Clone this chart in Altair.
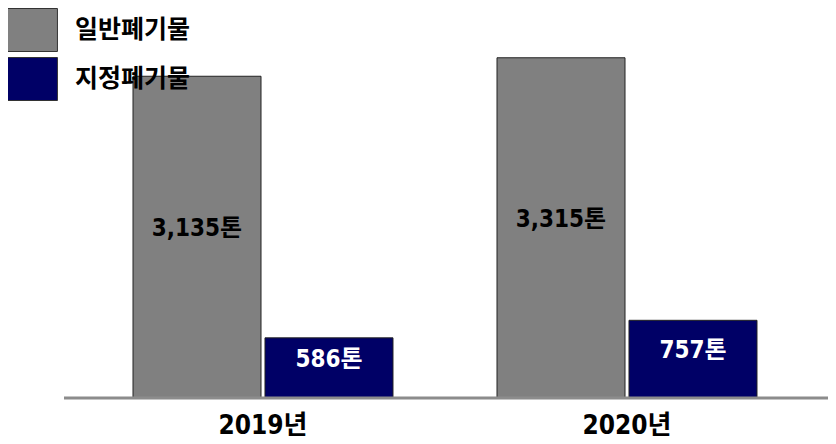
import altair as alt
import pandas as pd

years = ["2019년", "2020년"]
series = ["일반폐기물", "지정폐기물"]
general = [3135, 3315]
designated = [586, 757]
colors = ["#808080", "#000066"]

rows = []
for i, y in enumerate(years):
    for s, vals in zip(series, [general, designated]):
        rows.append({"year": y, "type": s, "value": vals[i], "label": f"{vals[i]:,}톤"})
df = pd.DataFrame(rows)

FONT = "'DejaVu Sans Condensed', 'Noto Sans CJK KR', sans-serif"
KFONT = "'Noto Sans CJK KR', sans-serif"

x = alt.X(
    "year:N",
    scale=alt.Scale(domain=years, range=[73, 801], paddingInner=0, paddingOuter=0),
    axis=alt.Axis(title=None, domain=False, ticks=False, labelAngle=0,
                  labelFont=FONT, labelFontSize=26, labelFontWeight="bold",
                  labelColor="black", labelPadding=14),
)
xo = alt.XOffset("type:N", scale=alt.Scale(domain=series, paddingInner=0.0303, paddingOuter=0.394))
yscale = alt.Scale(domain=[0, 3800])

base = alt.Chart(df)

bars = base.mark_bar(stroke="#222222", strokeWidth=1, opacity=1).encode(
    x=x,
    xOffset=xo,
    y=alt.Y("value:Q", scale=yscale, axis=None),
    color=alt.Color(
        "type:N",
        scale=alt.Scale(domain=series, range=colors),
        legend=alt.Legend(
            title=None, orient="none", legendX=1, legendY=0, padding=0,
            symbolType="M-1.23,-1H1.23V1H-1.23Z", symbolSize=1849,
            symbolStrokeColor="#333333", symbolStrokeWidth=1, symbolOpacity=1,
            rowPadding=1, labelOffset=22, labelLimit=400,
            labelFont=KFONT, labelFontSize=25, labelFontWeight="bold", labelColor="black",
        ),
    ),
)

labels = base.transform_calculate(mid="datum.value / 2").mark_text(
    font=FONT, fontSize=24, fontWeight="bold", dy=-8
).encode(
    x=x,
    xOffset=xo,
    y=alt.Y("mid:Q", scale=yscale, axis=None),
    text="label:N",
    color=alt.condition(alt.datum.type == "일반폐기물", alt.value("black"), alt.value("white")),
)

baseline = alt.Chart(pd.DataFrame({"v": [0]})).mark_rule(color="#8c8c8c", strokeWidth=3).encode(
    y=alt.Y("v:Q", scale=yscale, axis=None),
    x=alt.value(56),
    x2=alt.value(828),
)

chart = alt.layer(bars, labels, baseline).properties(
    width=820, height=390,
    padding={"left": 0, "top": 0, "right": 0, "bottom": 46},
    autosize=alt.AutoSizeParams(type="none"),
    background="white",
).configure_view(stroke=None)

chart.save("out.html", embed_options={"renderer": "svg", "actions": False})
